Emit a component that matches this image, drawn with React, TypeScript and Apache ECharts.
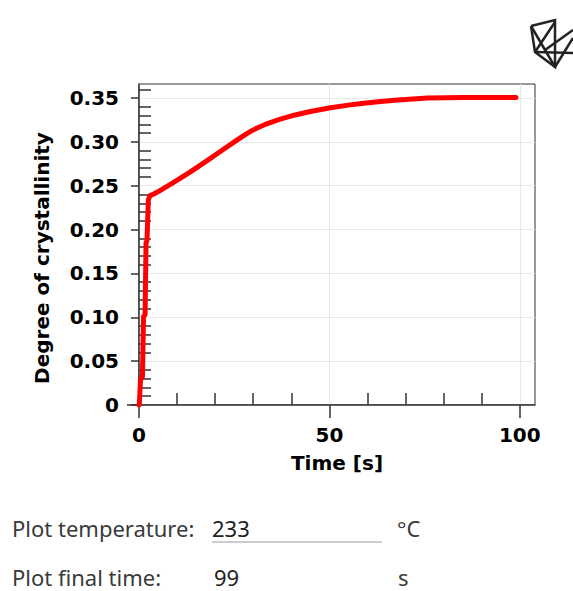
import React, { useEffect, useRef } from "react";
import * as echarts from "echarts";

const timeValues = [0, 0.1, 0.4, 0.9, 1.2, 1.6, 1.85, 2.1, 2.45, 2.9, 4, 5.5, 9, 13.4, 17.8, 22.2, 26.1, 28, 29.2, 31, 33, 35, 37.1, 41, 45, 50.3, 55, 59, 63.5, 67.9, 72, 75.8, 85, 99];
const crystallinityValues = [0, 0.002, 0.0295, 0.032, 0.101, 0.103, 0.185, 0.1875, 0.234, 0.2387, 0.2408, 0.2444, 0.2535, 0.2655, 0.2784, 0.2916, 0.3032, 0.3086, 0.3117, 0.3159, 0.3196, 0.3229, 0.3259, 0.3307, 0.3347, 0.339, 0.3419, 0.344, 0.346, 0.3477, 0.349, 0.35, 0.3505, 0.3505];

const yMajorTicks = [0, 0.05, 0.1, 0.15, 0.2, 0.25, 0.3, 0.35];
const yMinorTicks = [0.01, 0.02, 0.03, 0.04, 0.06, 0.07, 0.08, 0.09, 0.11, 0.12, 0.13, 0.14, 0.16, 0.17, 0.18, 0.19, 0.21, 0.22, 0.23, 0.24, 0.26, 0.27, 0.28, 0.29, 0.31, 0.32, 0.33, 0.34, 0.36];
const xMajorTicks = [0, 50, 100];
const xMinorTicks = [10, 20, 30, 40, 60, 70, 80, 90];

const xTitle = "Time [s]";
const yTitle = "Degree of crystallinity";
const tempLabel = "Plot temperature:";
const tempValue = "233";
const tempUnit = "°C";
const timeLabel = "Plot final time:";
const timeValue = "99";
const timeUnit = "s";

const AXIS_COLOR = "#333";
const LABEL_FONT = "DejaVu Sans";

export default function App() {
  const ref = useRef<HTMLDivElement>(null);
  useEffect(() => {
    if (!ref.current) return;
    const chart = echarts.init(ref.current, null, { renderer: "svg" });
    const data = timeValues.map((t, i) => [t, crystallinityValues[i]]);
    const labelStyle = { color: "#000", fontFamily: LABEL_FONT, fontWeight: "bold" as const, fontSize: 20 };
    const bottomText = { fontFamily: "Noto Sans", fontSize: 22, lineHeight: 22, fill: "#3a3a3a", verticalAlign: "middle" as const };
    chart.setOption({
      animation: false,
      backgroundColor: "#fff",
      grid: { left: 139, right: 38, top: 84, bottom: 186, show: true, borderColor: AXIS_COLOR, borderWidth: 1, backgroundColor: "transparent" },
      xAxis: [
        {
          type: "value", min: 0, max: 104, interval: 50, position: "bottom",
          axisLine: { show: true, onZero: false, lineStyle: { color: AXIS_COLOR, width: 1.5 } },
          axisTick: { show: true, length: 13, customValues: xMajorTicks, lineStyle: { color: AXIS_COLOR, width: 1.5 } },
          axisLabel: { margin: 20, customValues: xMajorTicks, ...labelStyle, formatter: (v: number) => String(v) },
          splitLine: { show: true, lineStyle: { color: "#e8e8e8" } },
          name: xTitle, nameLocation: "middle", nameGap: 48,
          nameTextStyle: { ...labelStyle },
        },
        {
          type: "value", min: 0, max: 104, position: "bottom", offset: 0,
          axisLine: { show: false, onZero: false },
          axisTick: { show: true, inside: true, length: 12, customValues: xMinorTicks, lineStyle: { color: AXIS_COLOR, width: 1.5 } },
          axisLabel: { show: false },
          splitLine: { show: false },
        },
      ],
      yAxis: [
        {
          type: "value", min: 0, max: 0.366, interval: 0.05, position: "left",
          axisLine: { show: true, onZero: false, lineStyle: { color: AXIS_COLOR, width: 1.5 } },
          axisTick: { show: true, length: 8, customValues: yMajorTicks, lineStyle: { color: AXIS_COLOR, width: 1.5 } },
          axisLabel: { margin: 20, customValues: yMajorTicks, ...labelStyle, formatter: (v: number) => (v === 0 ? "0" : v.toFixed(2)) },
          splitLine: { show: true, lineStyle: { color: "#e8e8e8" } },
        },
        {
          type: "value", min: 0, max: 0.366, position: "left", offset: 0,
          axisLine: { show: false, onZero: false },
          axisTick: { show: true, inside: true, length: 12, customValues: yMinorTicks, lineStyle: { color: AXIS_COLOR, width: 1.5 } },
          axisLabel: { show: false },
          splitLine: { show: false },
        },
      ],
      series: [
        {
          type: "line", xAxisIndex: 0, yAxisIndex: 0, data, showSymbol: false, symbol: "none",
          smooth: false,
          lineStyle: { color: "#ff0000", width: 5, join: "round", cap: "round" },
        },
      ],
      graphic: [
        { type: "line", shape: { x1: 127, y1: 405, x2: 139, y2: 405 }, style: { stroke: AXIS_COLOR, lineWidth: 1.5 } },
        {
          type: "text", x: 42, y: 258, rotation: Math.PI / 2,
          style: { text: yTitle, fontFamily: LABEL_FONT, fontWeight: "bold", fontSize: 20, fill: "#000", align: "center", verticalAlign: "middle" },
        },
        { type: "text", x: 12, y: 528, style: { ...bottomText, text: tempLabel } },
        { type: "text", x: 212, y: 528, style: { ...bottomText, text: tempValue, fill: "#222" } },
        { type: "line", shape: { x1: 212, y1: 542, x2: 382, y2: 542 }, style: { stroke: "#9a9aa8", lineWidth: 1 } },
        { type: "text", x: 397, y: 528, style: { ...bottomText, text: tempUnit } },
        { type: "text", x: 12, y: 577, style: { ...bottomText, text: timeLabel } },
        { type: "text", x: 214, y: 577, style: { ...bottomText, text: timeValue, fill: "#222" } },
        { type: "text", x: 398, y: 577, style: { ...bottomText, text: timeUnit } },
        {
          type: "group",
          children: [
            { type: "polyline", shape: { points: [[531, 26], [555, 20], [555, 67], [535, 52], [531, 26]] }, style: { stroke: "#222", lineWidth: 2.5, fill: "none" } },
            { type: "line", shape: { x1: 535, y1: 52, x2: 573, y2: 53 }, style: { stroke: "#222", lineWidth: 2.5 } },
            { type: "line", shape: { x1: 531, y1: 26, x2: 555, y2: 67 }, style: { stroke: "#222", lineWidth: 2.5 } },
            { type: "line", shape: { x1: 535, y1: 52, x2: 555, y2: 22 }, style: { stroke: "#222", lineWidth: 2.5 } },
            { type: "line", shape: { x1: 555, y1: 67, x2: 573, y2: 38 }, style: { stroke: "#222", lineWidth: 2.5 } },
            { type: "line", shape: { x1: 545, y1: 50, x2: 573, y2: 30 }, style: { stroke: "#222", lineWidth: 2.5 } },
          ],
        },
      ],
    });
    return () => chart.dispose();
  }, []);
  return <div ref={ref} style={{ position: "absolute", left: 0, top: 0, width: 573, height: 591 }} />;
}
